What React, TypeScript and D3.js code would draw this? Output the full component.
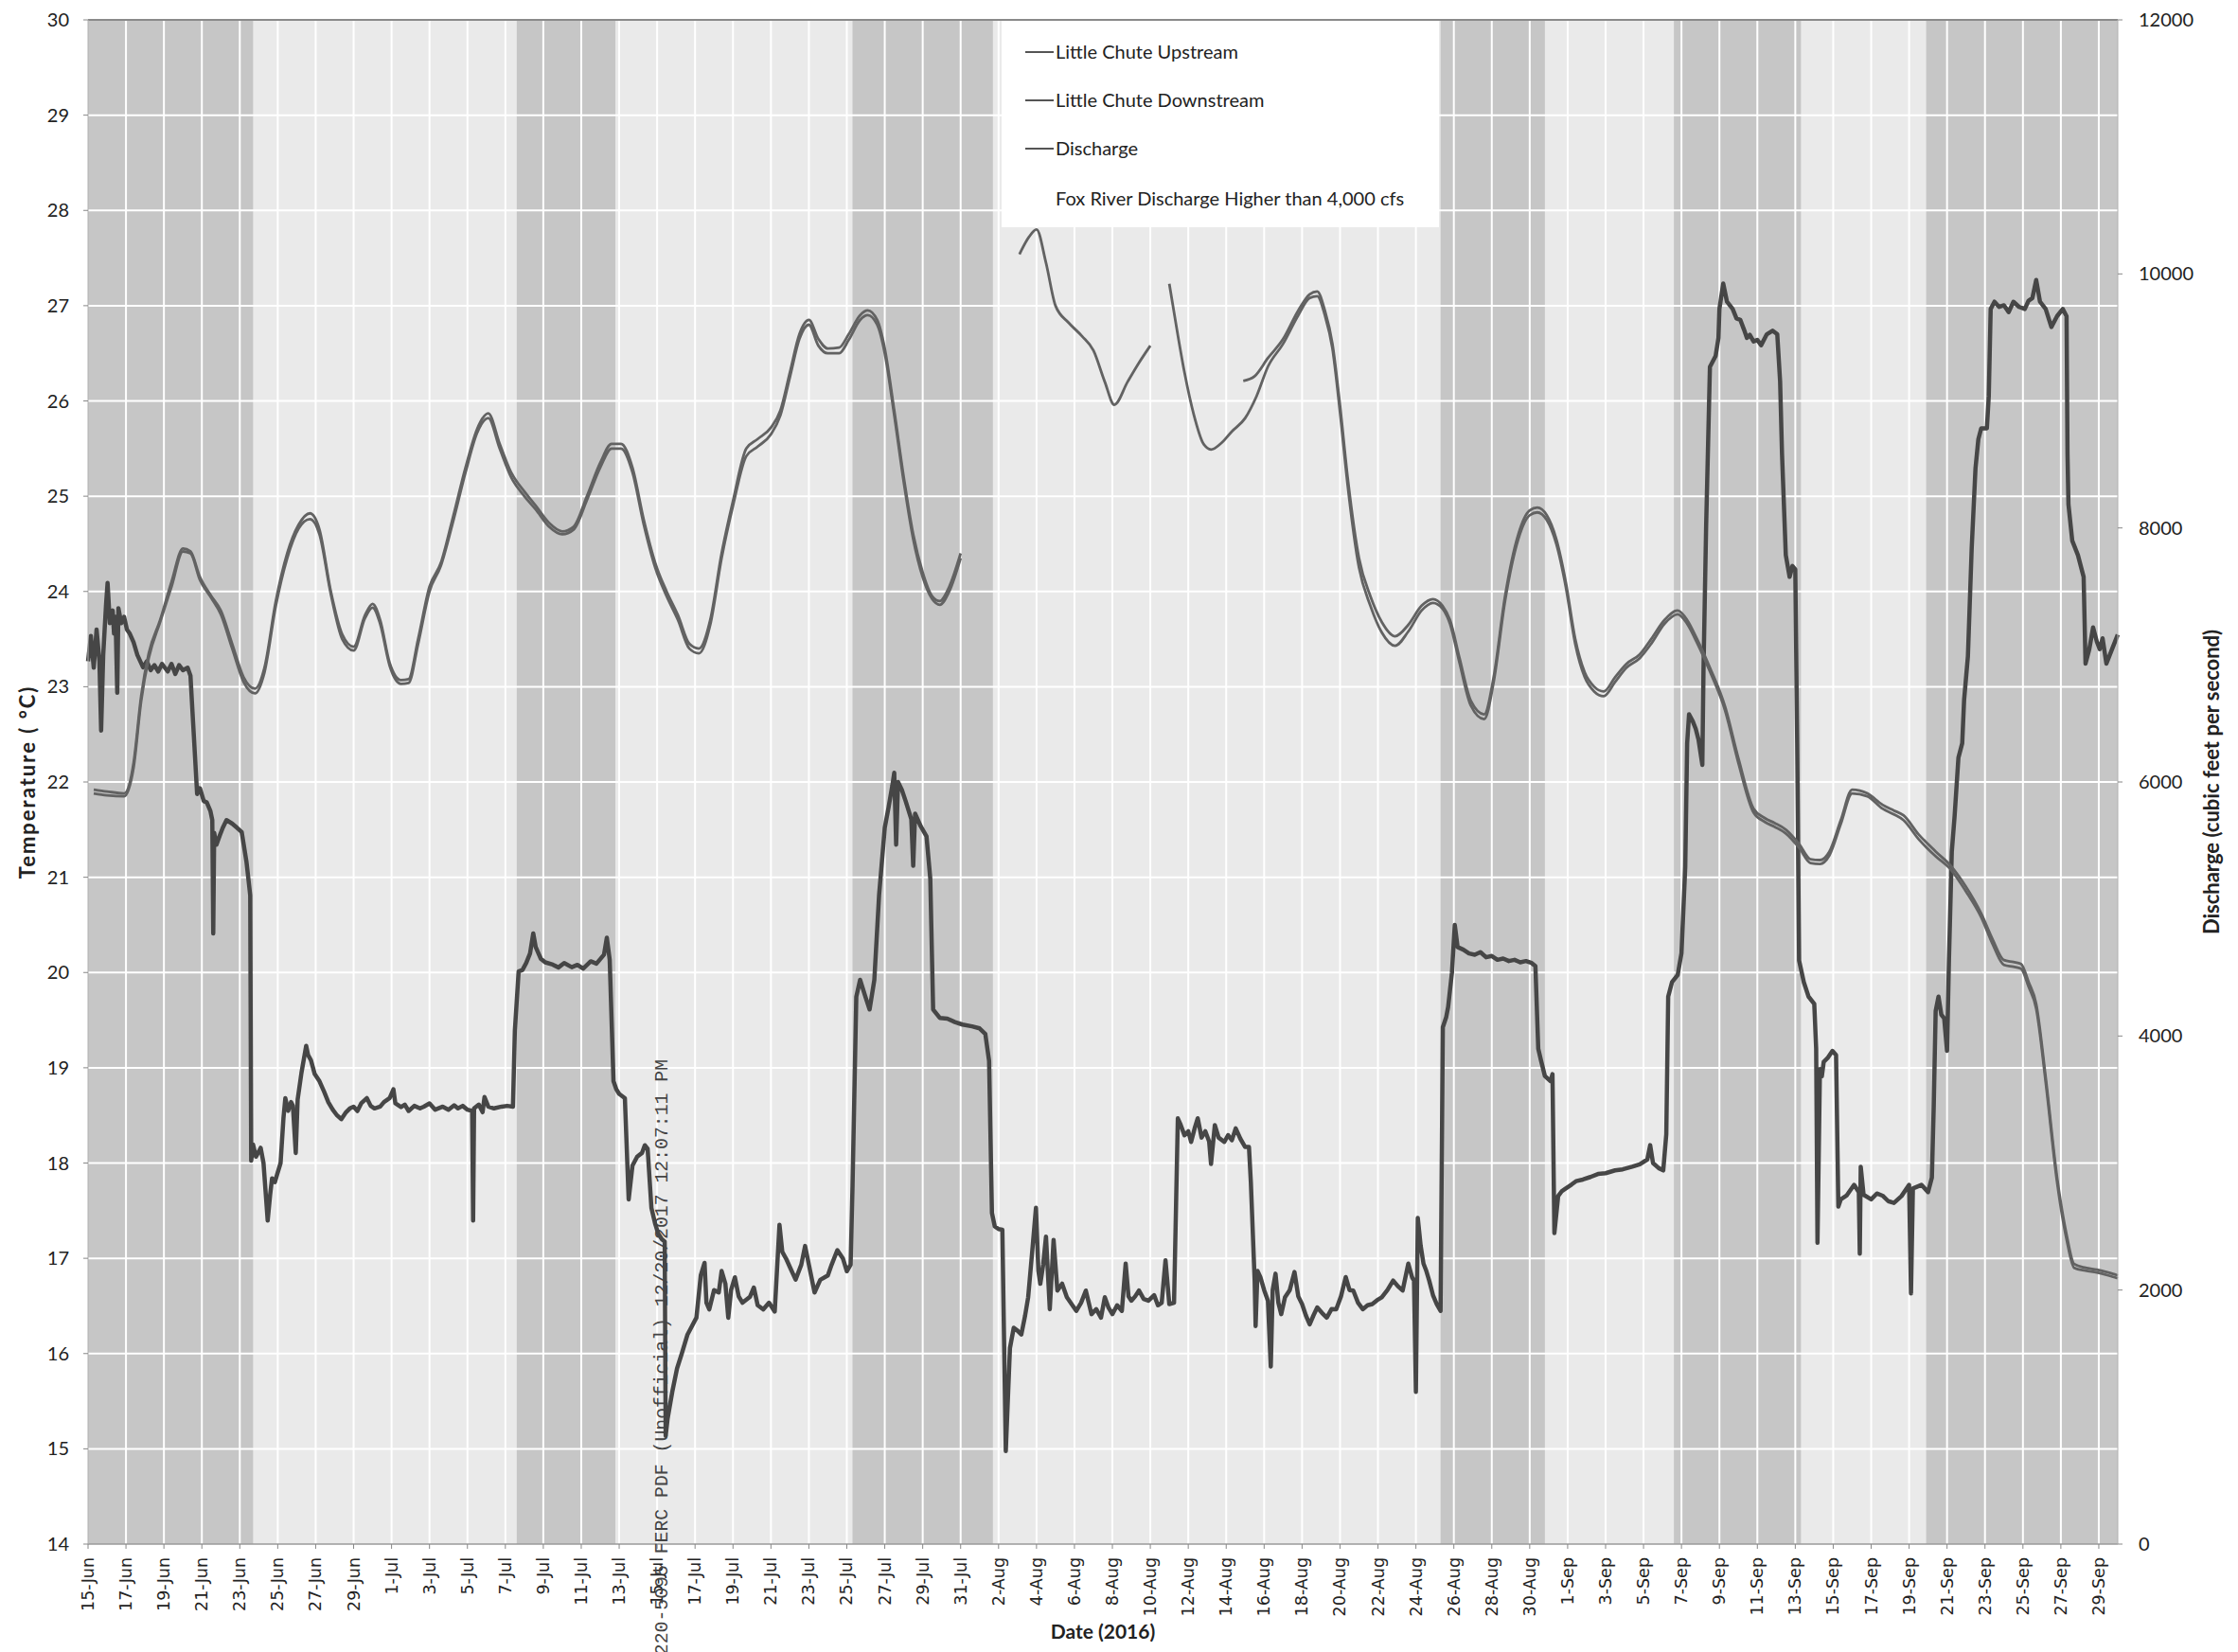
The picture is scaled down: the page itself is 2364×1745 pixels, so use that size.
import * as d3 from "d3";

// days after 15-Jun-2016 -> value
const startDate = new Date(2016, 5, 15);
const endDate = new Date(2016, 8, 30);

// Little Chute Upstream temperature (°C)
const upstreamJunJul: [number, number][] = [
  [0.3, 21.92], [1.0, 21.9], [1.9, 21.88], [2.4, 22.2], [2.8, 22.9], [3.2, 23.35], [3.8, 23.7], [4.4, 24.1],
  [5.0, 24.45], [5.4, 24.42], [5.9, 24.15], [6.5, 23.95], [7.0, 23.8], [7.6, 23.45], [8.2, 23.1], [8.8, 22.98],
  [9.3, 23.2], [9.9, 23.9], [10.5, 24.4], [11.1, 24.7], [11.7, 24.82], [12.2, 24.65], [12.8, 24.0], [13.4, 23.55],
  [14.0, 23.42], [14.6, 23.75], [15.0, 23.87], [15.4, 23.7], [15.9, 23.25], [16.5, 23.07], [16.9, 23.08], [17.4, 23.5],
  [18.0, 24.05], [18.6, 24.3], [19.2, 24.75], [19.9, 25.3], [20.5, 25.7], [21.1, 25.87], [21.7, 25.55], [22.3, 25.25],
  [23.0, 25.05], [23.6, 24.9], [24.3, 24.72], [25.0, 24.63], [25.6, 24.68], [26.3, 25.0], [27.0, 25.35], [27.6, 25.55],
  [28.1, 25.55], [28.7, 25.3], [29.3, 24.75], [29.9, 24.3], [30.5, 24.0], [31.1, 23.75], [31.7, 23.45], [32.2, 23.4],
  [32.8, 23.7], [33.4, 24.4], [34.0, 24.95], [34.7, 25.5], [35.3, 25.6], [36.0, 25.72], [36.5, 25.9], [37.0, 26.3],
  [37.5, 26.7], [38.0, 26.85], [38.5, 26.65], [39.0, 26.55], [39.6, 26.56], [40.1, 26.7], [40.7, 26.9], [41.1, 26.95],
  [41.6, 26.85], [42.0, 26.55], [42.5, 25.9], [43.0, 25.2], [43.5, 24.6], [44.0, 24.2], [44.5, 23.95], [44.9, 23.9],
  [45.4, 24.05], [46.0, 24.4],
];
const upstreamAugA: [number, number][] = [
  [49.1, 27.54], [49.6, 27.72], [50.0, 27.8], [50.5, 27.45], [51.0, 27.0], [51.7, 26.82], [52.4, 26.68],
  [53.0, 26.53], [53.6, 26.2], [54.1, 25.96], [54.8, 26.2], [55.4, 26.4], [56.0, 26.58],
];
const upstreamAugSep: [number, number][] = [
  [60.9, 26.21], [61.5, 26.26], [62.2, 26.45], [63.0, 26.65], [63.8, 26.95], [64.4, 27.12], [64.8, 27.15], [65.2, 26.95],
  [65.6, 26.6], [66.0, 25.95], [66.4, 25.2], [67.0, 24.35], [67.6, 23.95], [68.2, 23.68], [68.9, 23.53], [69.6, 23.65],
  [70.3, 23.85], [70.9, 23.92], [71.4, 23.85], [71.8, 23.7], [72.3, 23.3], [72.9, 22.85], [73.6, 22.71], [74.1, 23.1],
  [74.7, 23.95], [75.4, 24.6], [76.0, 24.85], [76.4, 24.88], [76.9, 24.8], [77.4, 24.55], [77.9, 24.1], [78.4, 23.5],
  [78.9, 23.15], [79.4, 23.0], [79.9, 22.95], [80.5, 23.1], [81.1, 23.24], [81.8, 23.34], [82.4, 23.5], [83.1, 23.7],
  [83.8, 23.8], [84.3, 23.7], [84.8, 23.51], [85.5, 23.2], [86.3, 22.79], [87.0, 22.25], [87.8, 21.72], [88.4, 21.62],
  [88.9, 21.57], [89.5, 21.5], [90.2, 21.35], [90.8, 21.19], [91.3, 21.18], [91.8, 21.27], [92.4, 21.6], [93.0, 21.92],
  [93.8, 21.88], [94.6, 21.76], [95.2, 21.7], [95.7, 21.65], [96.5, 21.45], [97.4, 21.27], [98.2, 21.12], [99.0, 20.9],
  [99.8, 20.62], [100.4, 20.35], [101.0, 20.13], [101.5, 20.11], [101.9, 20.09], [102.3, 19.9], [102.7, 19.67],
  [103.2, 18.9], [103.8, 17.85], [104.3, 17.25], [104.7, 16.94], [105.3, 16.9], [105.9, 16.88], [106.5, 16.85], [107.0, 16.82],
];

// Little Chute Downstream temperature (°C)
const downstreamJunJul: [number, number][] = [
  [0.3, 21.88], [1.0, 21.86], [1.9, 21.85], [2.4, 22.15], [2.8, 22.85], [3.2, 23.3], [3.8, 23.68], [4.4, 24.05],
  [5.0, 24.42], [5.4, 24.4], [5.9, 24.12], [6.5, 23.93], [7.0, 23.76], [7.6, 23.4], [8.2, 23.05], [8.8, 22.93],
  [9.3, 23.15], [9.9, 23.85], [10.5, 24.35], [11.1, 24.66], [11.7, 24.76], [12.2, 24.6], [12.8, 23.97], [13.4, 23.5],
  [14.0, 23.38], [14.6, 23.72], [15.0, 23.83], [15.4, 23.66], [15.9, 23.22], [16.5, 23.03], [16.9, 23.04], [17.4, 23.45],
  [18.0, 24.0], [18.6, 24.27], [19.2, 24.7], [19.9, 25.25], [20.5, 25.66], [21.1, 25.82], [21.7, 25.5], [22.3, 25.2],
  [23.0, 25.0], [23.6, 24.86], [24.3, 24.68], [25.0, 24.6], [25.6, 24.65], [26.3, 24.96], [27.0, 25.3], [27.6, 25.5],
  [28.1, 25.5], [28.7, 25.25], [29.3, 24.7], [29.9, 24.25], [30.5, 23.95], [31.1, 23.7], [31.7, 23.4], [32.2, 23.35],
  [32.8, 23.65], [33.4, 24.35], [34.0, 24.9], [34.7, 25.42], [35.3, 25.52], [36.0, 25.65], [36.5, 25.85], [37.0, 26.25],
  [37.5, 26.65], [38.0, 26.8], [38.5, 26.58], [39.0, 26.5], [39.6, 26.5], [40.1, 26.64], [40.7, 26.85], [41.1, 26.9],
  [41.6, 26.8], [42.0, 26.5], [42.5, 25.85], [43.0, 25.15], [43.5, 24.55], [44.0, 24.15], [44.5, 23.92], [44.9, 23.86],
  [45.4, 24.0], [46.0, 24.35],
];
const downstreamAugSep: [number, number][] = [
  [57.0, 27.23], [57.4, 26.75], [57.8, 26.3], [58.3, 25.85], [58.8, 25.55], [59.2, 25.49], [59.7, 25.55], [60.3, 25.68],
  [61.0, 25.82], [61.6, 26.05], [62.2, 26.36], [63.0, 26.6], [63.8, 26.9], [64.4, 27.08], [64.8, 27.1], [65.2, 26.9],
  [65.6, 26.55], [66.0, 25.88], [66.4, 25.12], [67.0, 24.25], [67.6, 23.85], [68.2, 23.57], [68.9, 23.43], [69.6, 23.58],
  [70.3, 23.8], [70.9, 23.88], [71.4, 23.82], [71.8, 23.66], [72.3, 23.25], [72.9, 22.8], [73.6, 22.66], [74.1, 23.05],
  [74.7, 23.9], [75.4, 24.55], [76.0, 24.8], [76.4, 24.83], [76.9, 24.75], [77.4, 24.5], [77.9, 24.05], [78.4, 23.45],
  [78.9, 23.1], [79.4, 22.95], [79.9, 22.9], [80.5, 23.05], [81.1, 23.2], [81.8, 23.3], [82.4, 23.45], [83.1, 23.66],
  [83.8, 23.76], [84.3, 23.66], [84.8, 23.47], [85.5, 23.16], [86.3, 22.75], [87.0, 22.2], [87.8, 21.68], [88.4, 21.58],
  [88.9, 21.53], [89.5, 21.46], [90.2, 21.31], [90.8, 21.15], [91.3, 21.14], [91.8, 21.23], [92.4, 21.56], [93.0, 21.88],
  [93.8, 21.85], [94.6, 21.72], [95.2, 21.66], [95.7, 21.6], [96.5, 21.4], [97.4, 21.22], [98.2, 21.08], [99.0, 20.85],
  [99.8, 20.58], [100.4, 20.3], [101.0, 20.08], [101.5, 20.06], [101.9, 20.04], [102.3, 19.85], [102.7, 19.62],
  [103.2, 18.85], [103.8, 17.8], [104.3, 17.2], [104.7, 16.9], [105.3, 16.87], [105.9, 16.85], [106.5, 16.82], [107.0, 16.79],
];

// Fox River discharge (cfs)
const discharge: [number, number][] = [
  [0.0, 6950], [0.15, 7150], [0.3, 6900], [0.45, 7200], [0.6, 6950], [0.69, 6404], [0.8, 7000], [0.95, 7400],
  [1.03, 7567], [1.15, 7250], [1.3, 7350], [1.37, 7168], [1.45, 7300], [1.54, 6703], [1.6, 7368], [1.75, 7250],
  [1.9, 7300], [2.05, 7200], [2.2, 7168], [2.4, 7100], [2.6, 7000], [2.9, 6903], [3.1, 6950], [3.3, 6880],
  [3.5, 6920], [3.7, 6870], [3.9, 6930], [4.2, 6870], [4.4, 6930], [4.6, 6850], [4.8, 6920], [5.0, 6880],
  [5.25, 6900], [5.4, 6836], [5.6, 6304], [5.75, 5905], [5.9, 5950], [6.1, 5850], [6.26, 5839], [6.45, 5772],
  [6.55, 5700], [6.6, 4808], [6.65, 5600], [6.77, 5506], [6.95, 5580], [7.1, 5639], [7.3, 5700], [7.6, 5672],
  [7.85, 5640], [8.1, 5606], [8.35, 5373], [8.55, 5107], [8.6, 3019], [8.7, 3145], [8.85, 3050], [8.96, 3079],
  [9.1, 3120], [9.25, 3000], [9.47, 2547], [9.6, 2750], [9.7, 2879], [9.85, 2850], [9.97, 2912], [10.15, 3000],
  [10.3, 3350], [10.4, 3511], [10.55, 3411], [10.7, 3480], [10.8, 3450], [10.95, 3079], [11.05, 3500], [11.25, 3710],
  [11.5, 3923], [11.6, 3850], [11.75, 3810], [11.95, 3700], [12.2, 3644], [12.45, 3560], [12.67, 3478], [12.9, 3420],
  [13.1, 3380], [13.35, 3345], [13.6, 3400], [13.8, 3430], [14.0, 3444], [14.2, 3410], [14.4, 3470], [14.7, 3511],
  [14.9, 3450], [15.1, 3430], [15.4, 3444], [15.6, 3480], [15.9, 3511], [16.1, 3580], [16.2, 3470], [16.5, 3440],
  [16.7, 3460], [16.9, 3410], [17.2, 3450], [17.5, 3430], [17.7, 3444], [18.0, 3470], [18.3, 3420], [18.7, 3444],
  [19.0, 3420], [19.3, 3455], [19.5, 3430], [19.75, 3450], [20.0, 3420], [20.25, 3410], [20.3, 2547], [20.35, 3430],
  [20.6, 3460], [20.8, 3400], [20.9, 3520], [21.1, 3444], [21.4, 3430], [21.8, 3444], [22.1, 3450], [22.4, 3444],
  [22.5, 4043], [22.7, 4508], [22.9, 4520], [23.1, 4575], [23.3, 4650], [23.47, 4808], [23.6, 4700], [23.87, 4608],
  [24.1, 4580], [24.5, 4562], [24.8, 4540], [25.1, 4575], [25.5, 4542], [25.8, 4560], [26.1, 4530], [26.5, 4588],
  [26.8, 4570], [27.2, 4641], [27.35, 4774], [27.5, 4600], [27.7, 3644], [27.85, 3580], [28.0, 3544], [28.3, 3511],
  [28.5, 2713], [28.7, 2979], [28.95, 3050], [29.2, 3079], [29.35, 3140], [29.5, 3112], [29.7, 2646], [29.9, 2520],
  [30.05, 2447], [30.25, 2400], [30.4, 2381], [30.45, 851], [30.55, 984], [30.8, 1200], [31.05, 1383], [31.3, 1500],
  [31.6, 1649], [31.85, 1720], [32.07, 1782], [32.3, 2115], [32.5, 2214], [32.6, 1900], [32.75, 1848], [33.0, 2000],
  [33.25, 1981], [33.4, 2150], [33.6, 2048], [33.75, 1782], [33.9, 2000], [34.1, 2100], [34.3, 1950], [34.5, 1900],
  [34.9, 1948], [35.1, 2020], [35.3, 1880], [35.6, 1848], [35.9, 1900], [36.2, 1830], [36.45, 2514], [36.6, 2300],
  [36.8, 2247], [37.0, 2180], [37.3, 2082], [37.6, 2200], [37.8, 2347], [38.0, 2200], [38.3, 1981], [38.6, 2080],
  [39.0, 2115], [39.2, 2200], [39.5, 2314], [39.8, 2247], [40.0, 2148], [40.2, 2200], [40.3, 2813], [40.5, 4309],
  [40.7, 4442], [41.0, 4300], [41.2, 4209], [41.45, 4442], [41.7, 5107], [42.0, 5639], [42.2, 5800], [42.4, 5972],
  [42.5, 6072], [42.6, 5506], [42.7, 6000], [42.9, 5939], [43.1, 5850], [43.4, 5706], [43.5, 5340], [43.6, 5750],
  [43.9, 5650], [44.2, 5573], [44.4, 5240], [44.55, 4209], [44.9, 4143], [45.3, 4137], [45.7, 4110], [46.1, 4090],
  [46.6, 4076], [47.0, 4060], [47.3, 4017], [47.5, 3804], [47.65, 2607], [47.8, 2501], [48.0, 2480], [48.2, 2474],
  [48.38, 732], [48.6, 1543], [48.8, 1703], [49.0, 1680], [49.2, 1650], [49.4, 1800], [49.56, 1943], [49.78, 2315],
  [49.97, 2647], [50.1, 2150], [50.2, 2049], [50.35, 2200], [50.5, 2421], [50.7, 1849], [50.9, 2395], [51.1, 1996],
  [51.35, 2050], [51.6, 1943], [51.85, 1890], [52.1, 1836], [52.35, 1900], [52.6, 1996], [52.9, 1810], [53.15, 1850],
  [53.4, 1783], [53.6, 1943], [53.8, 1860], [54.0, 1810], [54.25, 1880], [54.5, 1836], [54.7, 2208], [54.85, 1950],
  [55.0, 1916], [55.2, 1950], [55.4, 1996], [55.65, 1930], [55.9, 1916], [56.2, 1960], [56.4, 1880], [56.6, 1900],
  [56.8, 2235], [57.0, 1889], [57.25, 1900], [57.45, 3352], [57.6, 3300], [57.8, 3219], [58.0, 3250], [58.15, 3166],
  [58.35, 3280], [58.5, 3352], [58.7, 3200], [58.9, 3250], [59.1, 3170], [59.2, 2993], [59.4, 3299], [59.6, 3200],
  [59.9, 3166], [60.1, 3220], [60.3, 3180], [60.5, 3273], [60.75, 3190], [61.0, 3126], [61.2, 3126], [61.3, 2847],
  [61.5, 2075], [61.55, 1716], [61.65, 2150], [61.8, 2102], [62.0, 2000], [62.2, 1916], [62.35, 1397], [62.45, 2000],
  [62.6, 2129], [62.75, 1900], [62.9, 1810], [63.1, 1943], [63.35, 2000], [63.6, 2142], [63.8, 1950], [64.0, 1889],
  [64.2, 1800], [64.4, 1730], [64.6, 1800], [64.8, 1863], [65.05, 1820], [65.3, 1783], [65.55, 1850], [65.8, 1849],
  [66.05, 1950], [66.3, 2102], [66.5, 2000], [66.7, 1996], [66.95, 1900], [67.2, 1849], [67.45, 1880], [67.7, 1889],
  [67.95, 1920], [68.2, 1943], [68.5, 2000], [68.8, 2075], [69.05, 2030], [69.3, 1996], [69.6, 2208], [69.8, 2100],
  [69.9, 2075], [70.0, 1198], [70.1, 2568], [70.25, 2350], [70.4, 2208], [70.55, 2150], [70.7, 2075], [70.9, 1960],
  [71.1, 1889], [71.3, 1836], [71.42, 4070], [71.6, 4150], [71.7, 4230], [71.9, 4500], [72.05, 4875], [72.2, 4700],
  [72.5, 4680], [72.8, 4650], [73.1, 4640], [73.4, 4660], [73.7, 4620], [74.0, 4630], [74.3, 4600], [74.6, 4610],
  [74.9, 4590], [75.2, 4600], [75.5, 4580], [75.8, 4590], [76.1, 4575], [76.3, 4550], [76.45, 3900], [76.6, 3804],
  [76.8, 3685], [77.1, 3645], [77.2, 3700], [77.3, 2448], [77.5, 2740], [77.7, 2780], [77.9, 2800], [78.2, 2830],
  [78.44, 2857], [78.8, 2870], [79.2, 2890], [79.6, 2914], [80.0, 2920], [80.5, 2942], [80.9, 2950], [81.4, 2971],
  [81.8, 2990], [82.2, 3028], [82.35, 3141], [82.5, 3000], [82.8, 2960], [83.04, 2942], [83.2, 3227], [83.3, 4310],
  [83.5, 4424], [83.8, 4481], [84.0, 4652], [84.2, 5336], [84.3, 6305], [84.4, 6533], [84.6, 6476], [84.75, 6419],
  [84.9, 6333], [85.1, 6134], [85.16, 6875], [85.3, 8014], [85.5, 9268], [85.8, 9354], [85.95, 9496], [86.0, 9724],
  [86.2, 9924], [86.4, 9781], [86.7, 9724], [86.9, 9650], [87.1, 9639], [87.3, 9560], [87.45, 9496], [87.6, 9520],
  [87.8, 9468], [88.0, 9480], [88.2, 9439], [88.5, 9525], [88.8, 9553], [89.05, 9525], [89.2, 9154], [89.3, 8584],
  [89.5, 7786], [89.7, 7615], [89.85, 7700], [90.0, 7673], [90.1, 6305], [90.2, 4595], [90.45, 4424], [90.7, 4310],
  [91.0, 4253], [91.1, 3900], [91.17, 2372], [91.3, 3740], [91.4, 3683], [91.5, 3797], [91.7, 3826], [91.96, 3883],
  [92.15, 3850], [92.27, 2657], [92.4, 2714], [92.7, 2743], [93.1, 2828], [93.35, 2771], [93.4, 2287], [93.45, 2971],
  [93.6, 2750], [94.0, 2714], [94.3, 2760], [94.6, 2743], [94.9, 2700], [95.2, 2686], [95.6, 2740], [96.0, 2828],
  [96.1, 1974], [96.2, 2800], [96.65, 2828], [97.0, 2771], [97.2, 2885], [97.3, 3455], [97.4, 4196], [97.55, 4310],
  [97.7, 4168], [97.85, 4139], [98.0, 3883], [98.1, 4595], [98.25, 5450], [98.4, 5735], [98.6, 6191], [98.8, 6305],
  [98.9, 6647], [99.1, 6989], [99.3, 7843], [99.5, 8470], [99.65, 8698], [99.8, 8784], [100.1, 8784], [100.2, 9040],
  [100.3, 9724], [100.5, 9781], [100.75, 9740], [101.0, 9753], [101.25, 9700], [101.5, 9781], [101.8, 9740], [102.1, 9724],
  [102.3, 9790], [102.5, 9810], [102.7, 9952], [102.9, 9781], [103.2, 9724], [103.5, 9582], [103.8, 9667], [104.1, 9724],
  [104.3, 9667], [104.35, 8584], [104.4, 8185], [104.6, 7900], [104.9, 7786], [105.2, 7615], [105.3, 6932], [105.5, 7046],
  [105.7, 7217], [105.9, 7103], [106.05, 7046], [106.2, 7131], [106.4, 6932], [106.7, 7046], [107.0, 7160],
];

// periods with Fox River discharge higher than 4,000 cfs (days after 15-Jun)
const highFlowStart = [0, 22.6, 40.3, 71.3, 83.6, 96.9];
const highFlowEnd = [8.7, 27.8, 47.7, 76.8, 90.3, 107];

const legendLabels = [
  "Little Chute Upstream",
  "Little Chute Downstream",
  "Discharge",
  "Fox River Discharge Higher than 4,000 cfs",
];

const tempTicks = d3.range(14, 31);
const flowTicks = d3.range(0, 12001, 2000);

const stamp = "20171220-5095 FERC PDF (Unofficial) 12/20/2017 12:07:11 PM";

const W = 2364;
const H = 1745;
const left = 93;
const right = 2237;
const top = 21;
const bottom = 1631;

const toDate = (d: number) => new Date(startDate.getTime() + d * 86400000);

export default function App() {
  const x = d3.scaleTime().domain([startDate, endDate]).range([left, right]);
  const yT = d3.scaleLinear().domain([14, 30]).range([bottom, top]);
  const yQ = d3.scaleLinear().domain([0, 12000]).range([bottom, top]);

  const xTicks = d3.range(0, 107, 2).map(toDate);
  const fmt = d3.timeFormat("%-d-%b");

  const tempLine = d3
    .line<[number, number]>()
    .x((d) => x(toDate(d[0])))
    .y((d) => yT(d[1]))
    .curve(d3.curveMonotoneX);
  const flowLine = d3
    .line<[number, number]>()
    .x((d) => x(toDate(d[0])))
    .y((d) => yQ(d[1]));

  const tempSeries = [upstreamJunJul, upstreamAugA, upstreamAugSep, downstreamJunJul, downstreamAugSep];

  const legendX = 1083;
  const legendY = [55, 106, 157, 210];

  return (
    <svg
      width={W}
      height={H}
      style={{ position: "absolute", left: 0, top: 0, background: "#fff" }}
      fontFamily="Lato, 'Open Sans', sans-serif"
    >
      {/* plot background */}
      <rect x={left} y={top} width={right - left} height={bottom - top} fill="#eaeaea" />
      {highFlowStart.map((s, i) => (
        <rect
          key={"b" + i}
          x={x(toDate(s))}
          y={top}
          width={x(toDate(highFlowEnd[i])) - x(toDate(s))}
          height={bottom - top}
          fill="#c6c6c6"
        />
      ))}
      {/* gridlines */}
      {tempTicks.slice(1, -1).map((t) => (
        <line key={"gh" + t} x1={left} x2={right} y1={yT(t)} y2={yT(t)} stroke="#fff" strokeWidth={2} />
      ))}
      {xTicks.slice(1).map((d, i) => (
        <line key={"gv" + i} x1={x(d)} x2={x(d)} y1={top} y2={bottom} stroke="#fff" strokeWidth={2} />
      ))}

      {/* legend box */}
      <rect x={1058} y={top + 1} width={462} height={218} fill="#fff" />

      {/* data lines */}
      <path d={flowLine(discharge) || ""} fill="none" stroke="#464646" strokeWidth={4.5} strokeLinejoin="round" />
      {tempSeries.map((s, i) => (
        <path key={"t" + i} d={tempLine(s) || ""} fill="none" stroke="#626262" strokeWidth={2.8} />
      ))}

      {/* frame */}
      <line x1={left} x2={right} y1={top} y2={top} stroke="#8a8a8a" strokeWidth={2} />
      <line x1={left} x2={right} y1={bottom} y2={bottom} stroke="#9a9a9a" strokeWidth={1.5} />
      <line x1={left} x2={left} y1={top} y2={bottom} stroke="#b0b0b0" strokeWidth={1} />
      <line x1={right} x2={right} y1={top} y2={bottom} stroke="#b0b0b0" strokeWidth={1} />

      {/* left axis */}
      {tempTicks.map((t) => (
        <g key={"lt" + t}>
          <line x1={left - 5} x2={left} y1={yT(t)} y2={yT(t)} stroke="#888" strokeWidth={1} />
          <text x={left - 20} y={yT(t) + 7} textAnchor="end" fontSize={20} fill="#222">
            {t}
          </text>
        </g>
      ))}
      {/* right axis */}
      {flowTicks.map((q) => (
        <g key={"rt" + q}>
          <line x1={right} x2={right + 5} y1={yQ(q)} y2={yQ(q)} stroke="#888" strokeWidth={1} />
          <text x={right + 22} y={yQ(q) + 7} textAnchor="start" fontSize={20} fill="#222">
            {q}
          </text>
        </g>
      ))}
      {/* bottom axis */}
      {xTicks.map((d, i) => (
        <g key={"bt" + i}>
          <line x1={x(d)} x2={x(d)} y1={bottom} y2={bottom + 5} stroke="#888" strokeWidth={1} />
          <text
            transform={`translate(${x(d) + 6},${bottom + 14}) rotate(-90)`}
            textAnchor="end"
            fontSize={17.5}
            fontFamily="'DejaVu Sans', sans-serif"
            fill="#222"
          >
            {fmt(d)}
          </text>
        </g>
      ))}

      {/* axis titles */}
      <text x={(left + right) / 2} y={1731} textAnchor="middle" fontSize={21} fontWeight="bold" fill="#222">
        Date (2016)
      </text>
      <text
        transform={`translate(37,${(top + bottom) / 2}) rotate(-90)`}
        textAnchor="middle"
        fontSize={22}
        fontWeight="bold"
        letterSpacing={2}
        fill="#222"
      >
        Temperature ( °C)
      </text>
      <text
        transform={`translate(2344,${(top + bottom) / 2}) rotate(-90)`}
        textAnchor="middle"
        fontSize={22}
        fontWeight="bold"
        fill="#222"
      >
        Discharge (cubic feet per second)
      </text>

      {/* legend */}
      {legendLabels.map((l, i) => (
        <g key={"lg" + i}>
          {i < 3 && (
            <line x1={legendX} x2={legendX + 30} y1={legendY[i]} y2={legendY[i]} stroke="#555" strokeWidth={2} />
          )}
          <text x={legendX + 32} y={legendY[i] + 7} fontSize={20} fill="#222">
            {l}
          </text>
        </g>
      ))}

      {/* scan stamp */}
      <text
        transform="translate(705,1119) rotate(-90)"
        textAnchor="end"
        fontSize={19.8}
        fontFamily="'Liberation Mono', 'DejaVu Sans Mono', monospace"
        fill="#444"
      >
        {stamp}
      </text>
    </svg>
  );
}
